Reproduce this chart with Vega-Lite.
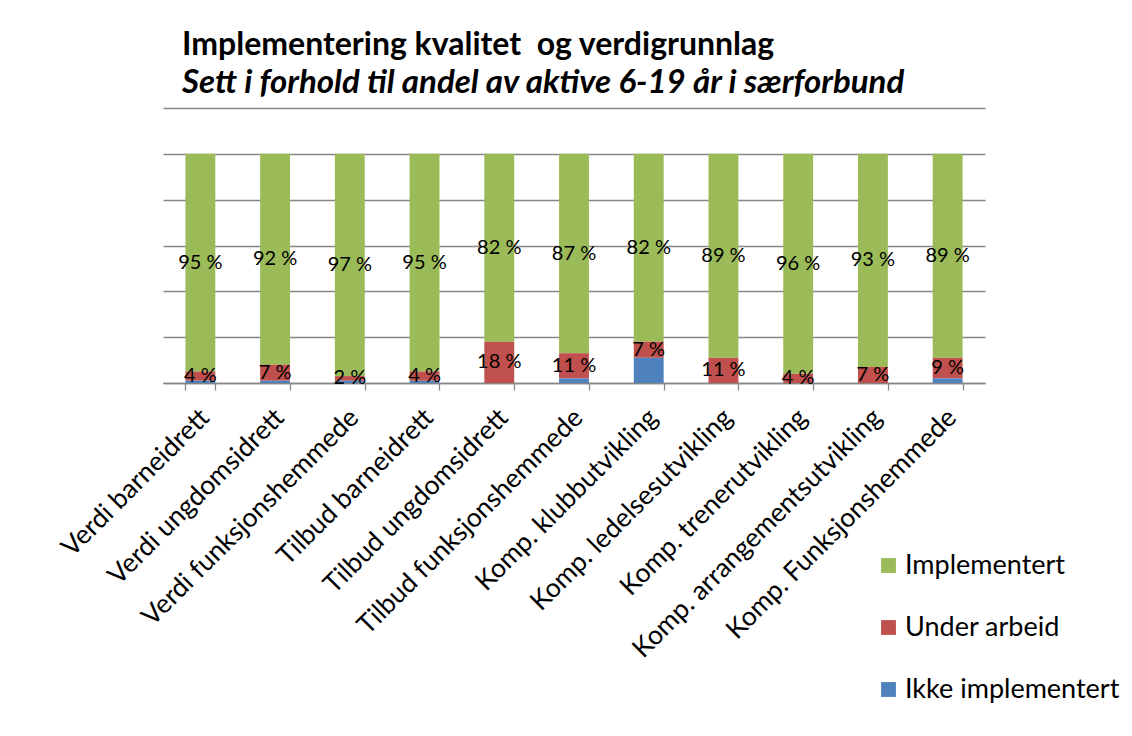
{
  "$schema": "https://vega.github.io/schema/vega-lite/v6.json",
  "width": 822,
  "height": 275,
  "autosize": {"type": "none"},
  "padding": {"left": 163, "top": 108, "right": 147, "bottom": 353},
  "background": "white",
  "title": {
    "text": "Implementering kvalitet\u00a0 og verdigrunnlag",
    "subtitle": "Sett i forhold til andel av aktive 6-19 år i særforbund",
    "anchor": "start",
    "frame": "group",
    "dx": 19,
    "font": "Lato",
    "fontSize": 32,
    "fontWeight": "bold",
    "color": "black",
    "subtitleFont": "Lato",
    "subtitleFontSize": 33,
    "subtitleFontWeight": "bold",
    "subtitleFontStyle": "italic",
    "subtitleColor": "black",
    "subtitlePadding": 5,
    "offset": 7
  },
  "data": {
    "values": [
      {"cat": "Verdi barneidrett", "s": "Implementert", "v": 95, "o": 3},
      {"cat": "Verdi barneidrett", "s": "Under arbeid", "v": 4, "o": 2},
      {"cat": "Verdi barneidrett", "s": "Ikke implementert", "v": 1, "o": 1},
      {"cat": "Verdi ungdomsidrett", "s": "Implementert", "v": 92, "o": 3},
      {"cat": "Verdi ungdomsidrett", "s": "Under arbeid", "v": 7, "o": 2},
      {"cat": "Verdi ungdomsidrett", "s": "Ikke implementert", "v": 1, "o": 1},
      {"cat": "Verdi funksjonshemmede", "s": "Implementert", "v": 97, "o": 3},
      {"cat": "Verdi funksjonshemmede", "s": "Under arbeid", "v": 2, "o": 2},
      {"cat": "Verdi funksjonshemmede", "s": "Ikke implementert", "v": 1, "o": 1},
      {"cat": "Tilbud barneidrett", "s": "Implementert", "v": 95, "o": 3},
      {"cat": "Tilbud barneidrett", "s": "Under arbeid", "v": 4, "o": 2},
      {"cat": "Tilbud barneidrett", "s": "Ikke implementert", "v": 1, "o": 1},
      {"cat": "Tilbud ungdomsidrett", "s": "Implementert", "v": 82, "o": 3},
      {"cat": "Tilbud ungdomsidrett", "s": "Under arbeid", "v": 18, "o": 2},
      {"cat": "Tilbud ungdomsidrett", "s": "Ikke implementert", "v": 0, "o": 1},
      {"cat": "Tilbud funksjonshemmede", "s": "Implementert", "v": 87, "o": 3},
      {"cat": "Tilbud funksjonshemmede", "s": "Under arbeid", "v": 11, "o": 2},
      {"cat": "Tilbud funksjonshemmede", "s": "Ikke implementert", "v": 2, "o": 1},
      {"cat": "Komp. klubbutvikling", "s": "Implementert", "v": 82, "o": 3},
      {"cat": "Komp. klubbutvikling", "s": "Under arbeid", "v": 7, "o": 2},
      {"cat": "Komp. klubbutvikling", "s": "Ikke implementert", "v": 11, "o": 1},
      {"cat": "Komp. ledelsesutvikling", "s": "Implementert", "v": 89, "o": 3},
      {"cat": "Komp. ledelsesutvikling", "s": "Under arbeid", "v": 11, "o": 2},
      {"cat": "Komp. ledelsesutvikling", "s": "Ikke implementert", "v": 0, "o": 1},
      {"cat": "Komp. trenerutvikling", "s": "Implementert", "v": 96, "o": 3},
      {"cat": "Komp. trenerutvikling", "s": "Under arbeid", "v": 4, "o": 2},
      {"cat": "Komp. trenerutvikling", "s": "Ikke implementert", "v": 0, "o": 1},
      {"cat": "Komp. arrangementsutvikling", "s": "Implementert", "v": 93, "o": 3},
      {"cat": "Komp. arrangementsutvikling", "s": "Under arbeid", "v": 7, "o": 2},
      {"cat": "Komp. arrangementsutvikling", "s": "Ikke implementert", "v": 0, "o": 1},
      {"cat": "Komp. Funksjonshemmede", "s": "Implementert", "v": 89, "o": 3},
      {"cat": "Komp. Funksjonshemmede", "s": "Under arbeid", "v": 9, "o": 2},
      {"cat": "Komp. Funksjonshemmede", "s": "Ikke implementert", "v": 2, "o": 1}
    ]
  },
  "encoding": {
    "x": {
      "field": "cat",
      "type": "nominal",
      "sort": null,
      "scale": {"paddingInner": 0.6, "paddingOuter": 0.3},
      "axis": {
        "title": null,
        "labelAngle": -45,
        "labelFont": "Lato",
        "labelFontSize": 26.5,
        "labelColor": "black",
        "labelPadding": 14,
        "labelOffset": -5,
        "labelLimit": 0,
        "labelOverlap": false,
        "tickBand": "extent",
        "tickSize": 7,
        "tickColor": "#868686",
        "tickWidth": 1.3,
        "domainColor": "#868686",
        "domainWidth": 1.3,
        "grid": false
      }
    }
  },
  "layer": [
    {
      "mark": {"type": "bar"},
      "encoding": {
        "y": {
          "field": "v",
          "type": "quantitative",
          "stack": "zero",
          "scale": {"domain": [0, 120]},
          "axis": {
            "values": [0, 20, 40, 60, 80, 100, 120],
            "labels": false,
            "ticks": false,
            "domain": false,
            "title": null,
            "grid": true,
            "gridColor": "#868686",
            "gridWidth": 1.3
          }
        },
        "color": {
          "field": "s",
          "type": "nominal",
          "scale": {
            "domain": ["Implementert", "Under arbeid", "Ikke implementert"],
            "range": ["#9BBB59", "#C0504D", "#4F81BD"]
          },
          "legend": {
            "title": null,
            "orient": "none",
            "legendX": 712,
            "legendY": 444,
            "symbolType": "square",
            "symbolSize": 220,
            "symbolStrokeWidth": 0,
            "labelFont": "Lato",
            "labelFontSize": 27,
            "labelColor": "black",
            "labelOffset": 3,
            "labelLimit": 0,
            "rowPadding": 34
          }
        },
        "order": {"field": "o", "type": "quantitative"}
      }
    },
    {
      "mark": {
        "type": "text",
        "font": "Lato",
        "fontSize": 20,
        "color": "black",
        "text": {"expr": "datum.s == 'Ikke implementert' ? '' : datum.v + ' %'"}
      },
      "encoding": {
        "y": {"field": "v", "type": "quantitative", "stack": "zero", "bandPosition": 0.5},
        "detail": {"field": "s"},
        "order": {"field": "o", "type": "quantitative"}
      }
    }
  ],
  "config": {"view": {"stroke": null}}
}
